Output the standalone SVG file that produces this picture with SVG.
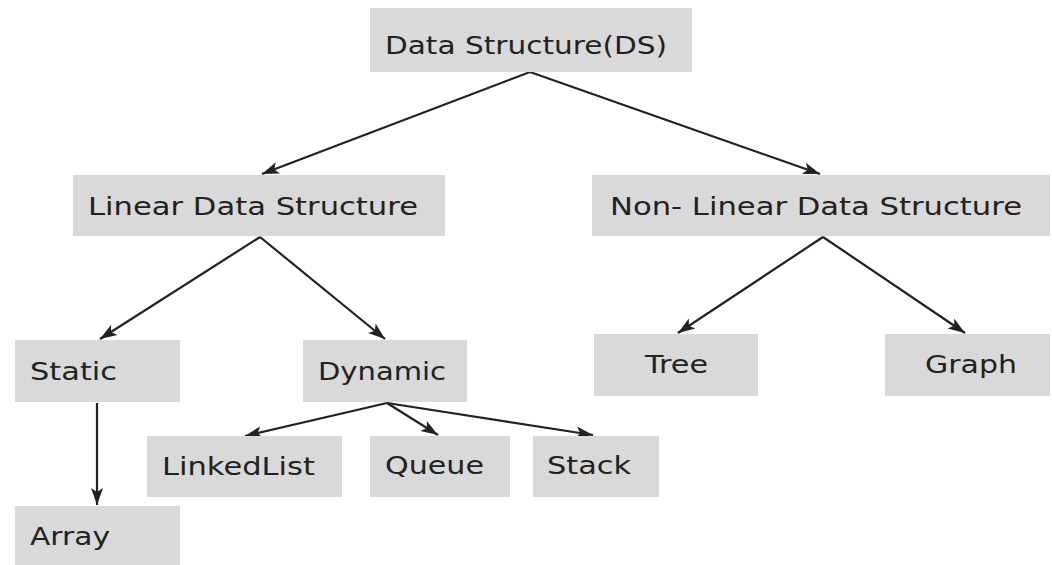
<svg xmlns="http://www.w3.org/2000/svg" width="1052" height="565" viewBox="0 0 1052 565">
<style>
.box{fill:#d9d9d9}
.lbl{font-family:"DejaVu Sans","Liberation Sans",sans-serif;font-size:25px;fill:#222}
.edge{stroke:#222;stroke-width:2.2;fill:none;marker-end:url(#ah)}
</style>
<defs>
<marker id="ah" markerUnits="userSpaceOnUse" markerWidth="18" markerHeight="14" viewBox="0 0 18 14" refX="17" refY="7" orient="auto">
<path d="M0,1 L17,7 L0,13 L4,7 z" fill="#222"/>
</marker>
</defs>
<rect width="1052" height="565" fill="#fff"/>
<g id="connectors">
<line class="edge" x1="530" y1="72" x2="262" y2="174"/>
<line class="edge" x1="530" y1="72" x2="820" y2="174"/>
<line class="edge" x1="260" y1="237" x2="100" y2="339"/>
<line class="edge" x1="260" y1="237" x2="385" y2="339"/>
<line class="edge" x1="823" y1="237" x2="678" y2="333"/>
<line class="edge" x1="823" y1="237" x2="965" y2="333"/>
<line class="edge" x1="97" y1="403" x2="97" y2="505"/>
<line class="edge" x1="387" y1="403" x2="245" y2="436"/>
<line class="edge" x1="387" y1="403" x2="438" y2="435"/>
<line class="edge" x1="387" y1="403" x2="593" y2="435"/>
</g>
<g id="node-ds"><rect class="box" x="370" y="8" width="322" height="64"/><text class="lbl" x="385" y="54" textLength="282" lengthAdjust="spacingAndGlyphs">Data Structure(DS)</text></g>
<g id="node-linear"><rect class="box" x="73" y="175" width="372" height="61"/><text class="lbl" x="88" y="215" textLength="330" lengthAdjust="spacingAndGlyphs">Linear Data Structure</text></g>
<g id="node-nonlinear"><rect class="box" x="592" y="175" width="458" height="61"/><text class="lbl" x="610" y="215" textLength="412" lengthAdjust="spacingAndGlyphs">Non- Linear Data Structure</text></g>
<g id="node-static"><rect class="box" x="15" y="340" width="165" height="62"/><text class="lbl" x="30" y="380" textLength="87" lengthAdjust="spacingAndGlyphs">Static</text></g>
<g id="node-dynamic"><rect class="box" x="303" y="340" width="164" height="62"/><text class="lbl" x="318" y="380" textLength="128" lengthAdjust="spacingAndGlyphs">Dynamic</text></g>
<g id="node-tree"><rect class="box" x="594" y="334" width="164" height="62"/><text class="lbl" x="645" y="373" textLength="63" lengthAdjust="spacingAndGlyphs">Tree</text></g>
<g id="node-graph"><rect class="box" x="885" y="334" width="165" height="62"/><text class="lbl" x="925" y="373" textLength="92" lengthAdjust="spacingAndGlyphs">Graph</text></g>
<g id="node-linkedlist"><rect class="box" x="147" y="436" width="195" height="61"/><text class="lbl" x="162" y="475" textLength="153" lengthAdjust="spacingAndGlyphs">LinkedList</text></g>
<g id="node-queue"><rect class="box" x="370" y="436" width="140" height="61"/><text class="lbl" x="385" y="474" textLength="99" lengthAdjust="spacingAndGlyphs">Queue</text></g>
<g id="node-stack"><rect class="box" x="533" y="436" width="126" height="61"/><text class="lbl" x="547" y="474" textLength="84" lengthAdjust="spacingAndGlyphs">Stack</text></g>
<g id="node-array"><rect class="box" x="15" y="506" width="165" height="59"/><text class="lbl" x="30" y="545" textLength="80" lengthAdjust="spacingAndGlyphs">Array</text></g>
</svg>
